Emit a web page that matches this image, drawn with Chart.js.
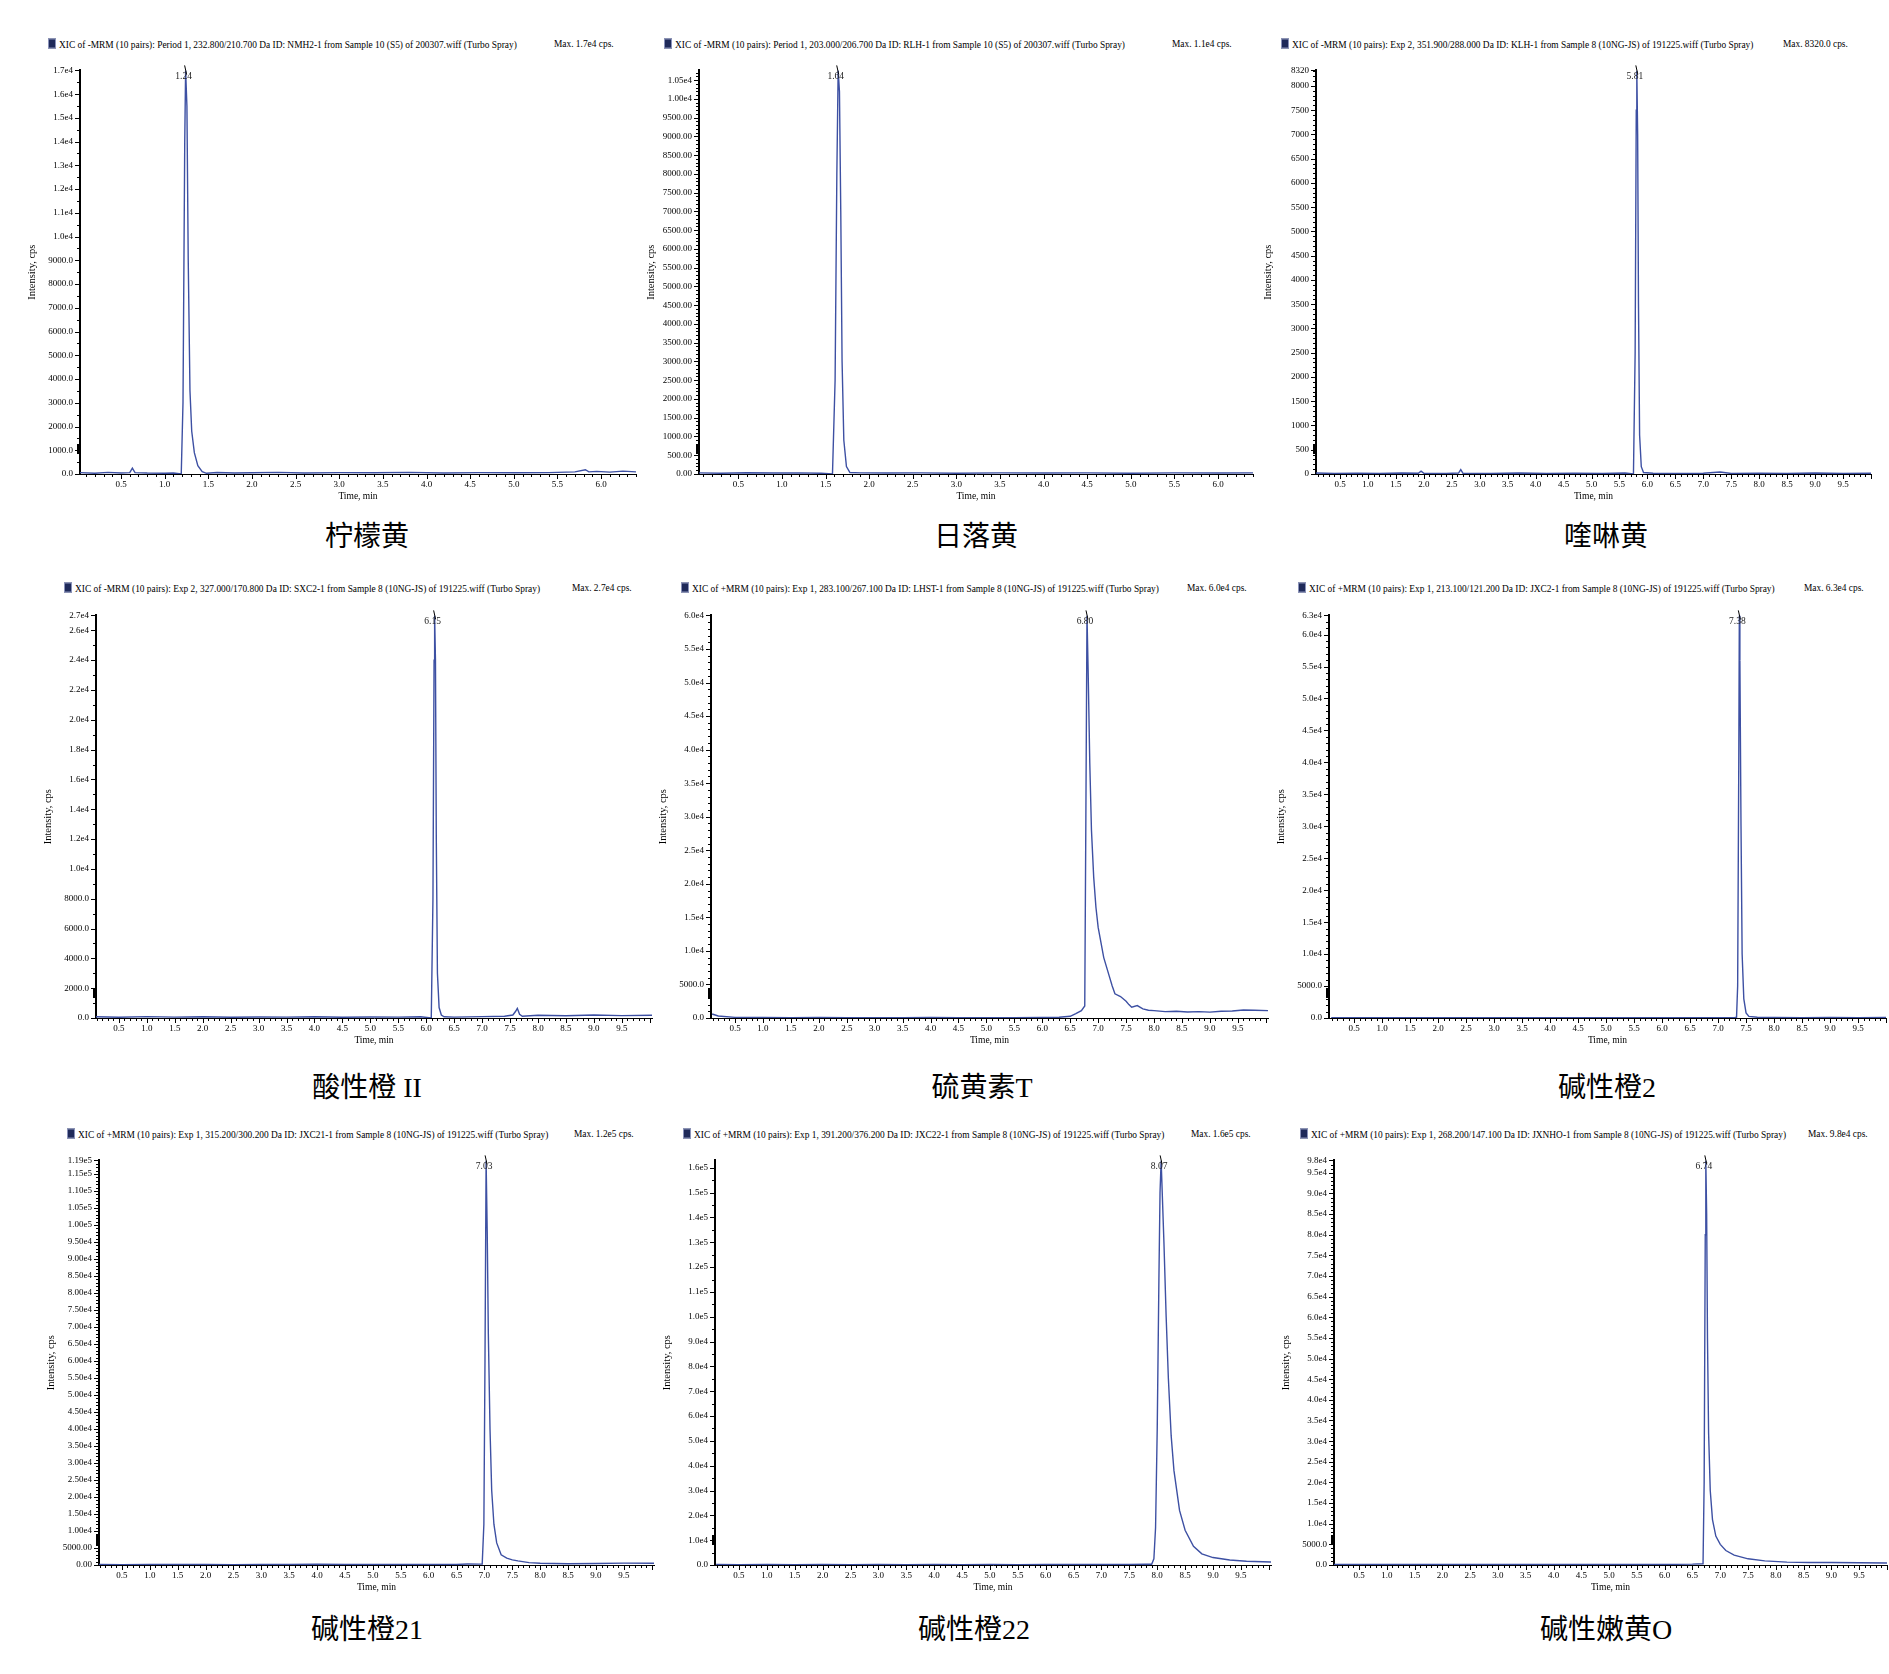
<!DOCTYPE html>
<html><head><meta charset="utf-8">
<script src="https://cdn.jsdelivr.net/npm/chart.js@4.4.1/dist/chart.umd.min.js"></script>
<style>
body{margin:0;background:#fff;}
#page{position:relative;width:1889px;height:1674px;overflow:hidden;font-family:"Liberation Serif","Times New Roman",serif;color:#000;}
.ttl,.mx{position:absolute;font-size:9.4px;white-space:nowrap;line-height:10px;transform:translateY(-50%);}
.ttl i{display:inline-block;width:6px;height:8px;background:#1f2a5a;border:1px solid #8a92ba;margin-right:3px;vertical-align:-1px;}
.cap{position:absolute;font-size:28px;font-family:"Liberation Serif","Noto Sans CJK SC",serif;transform:translate(-50%,-50%);white-space:nowrap;}
.box{position:absolute;}
</style></head><body><div id="page"></div>
<script>
// ---- data (time in min, intensity in cps) ----
const t1 = [0.03, 0.2, 0.35, 0.5, 0.6, 0.63, 0.66, 0.8, 1.0, 1.1, 1.19, 1.21, 1.23, 1.24, 1.255, 1.27, 1.29, 1.31, 1.34, 1.38, 1.43, 1.48, 1.6, 1.8, 2.0, 2.3, 2.6, 3.0, 3.4, 3.8, 4.2, 4.6, 5.0, 5.4, 5.7, 5.82, 5.86, 5.95, 6.1, 6.25, 6.4];
const y1 = [60, 30, 70, 40, 60, 250, 60, 40, 30, 40, 0, 3000, 14000, 17000, 15500, 9000, 3500, 1800, 900, 350, 100, 30, 60, 40, 50, 70, 40, 60, 50, 70, 40, 60, 50, 60, 90, 180, 90, 110, 80, 120, 90];

const t2 = [0.05, 0.3, 0.6, 0.9, 1.2, 1.45, 1.58, 1.61, 1.63, 1.645, 1.66, 1.675, 1.69, 1.71, 1.74, 1.78, 1.9, 2.2, 2.6, 3.0, 3.5, 4.0, 4.5, 5.0, 5.5, 6.0, 6.4];
const y2 = [30, 20, 35, 25, 30, 20, 0, 2500, 8000, 10760, 10200, 7000, 3000, 900, 200, 40, 30, 25, 30, 20, 30, 25, 30, 20, 30, 25, 30];

const t3 = [0.07, 0.4, 0.8, 1.2, 1.6, 1.9, 1.95, 2.0, 2.4, 2.62, 2.66, 2.7, 3.2, 3.7, 4.2, 4.7, 5.2, 5.6, 5.75, 5.78, 5.80, 5.81, 5.825, 5.84, 5.86, 5.89, 5.93, 6.1, 6.5, 7.0, 7.3, 7.5, 8.0, 8.5, 9.0, 9.5, 10.0];
const y3 = [20, 10, 15, 10, 20, 15, 60, 15, 10, 20, 90, 15, 10, 20, 10, 15, 10, 20, 0, 2500, 7500, 8320, 7000, 3500, 800, 150, 30, 15, 10, 15, 40, 10, 15, 10, 20, 10, 15];

const t4 = [0.09, 0.5, 1.0, 1.5, 2.0, 2.5, 3.0, 3.5, 4.0, 4.5, 5.0, 5.5, 5.9, 6.09, 6.12, 6.14, 6.15, 6.165, 6.18, 6.20, 6.23, 6.27, 6.32, 6.5, 7.0, 7.4, 7.55, 7.6, 7.63, 7.67, 7.72, 8.0, 8.5, 9.0, 9.5, 10.04];
const y4 = [80, 50, 90, 60, 80, 50, 70, 60, 80, 50, 70, 60, 80, 0, 8000, 24000, 27000, 24000, 12000, 3000, 700, 200, 80, 60, 90, 120, 200, 450, 650, 250, 120, 180, 150, 200, 160, 180];

const t5 = [0.09, 0.2, 0.5, 1.0, 1.5, 2.0, 2.5, 3.0, 3.5, 4.0, 4.5, 5.0, 5.5, 6.0, 6.3, 6.5, 6.6, 6.7, 6.76, 6.78, 6.80, 6.82, 6.85, 6.88, 6.92, 6.96, 7.0, 7.1, 7.2, 7.25, 7.3, 7.4, 7.5, 7.55, 7.6, 7.7, 7.8, 7.9, 8.0, 8.2, 8.4, 8.6, 8.8, 9.0, 9.2, 9.4, 9.6, 9.8, 10.04];
const y5 = [600, 300, 100, 80, 60, 70, 50, 60, 50, 70, 60, 50, 60, 80, 120, 250, 650, 1100, 1800, 30000, 60000, 52000, 38000, 28000, 21000, 16500, 13500, 9000, 6200, 4800, 3600, 3200, 2500, 2000, 1600, 1850, 1350, 1150, 1100, 950, 1000, 900, 950, 870, 1000, 1050, 1200, 1150, 1100];

const t6 = [0.09, 0.5, 1.0, 1.5, 2.0, 2.5, 3.0, 3.5, 4.0, 4.5, 5.0, 5.5, 6.0, 6.5, 7.0, 7.3, 7.33, 7.35, 7.37, 7.38, 7.39, 7.41, 7.43, 7.46, 7.5, 7.55, 7.7, 8.0, 8.5, 9.0, 9.5, 10.04];
const y6 = [60, 40, 50, 40, 60, 40, 50, 40, 60, 40, 50, 40, 60, 50, 60, 80, 100, 5000, 40000, 63000, 56000, 30000, 10000, 3000, 800, 250, 120, 80, 60, 70, 60, 70];

const t7 = [0.09, 0.5, 1.0, 1.5, 2.0, 2.5, 3.0, 3.5, 4.0, 4.5, 5.0, 5.5, 6.0, 6.5, 6.7, 6.9, 6.96, 6.99, 7.01, 7.03, 7.05, 7.07, 7.10, 7.13, 7.17, 7.22, 7.3, 7.4, 7.5, 7.6, 7.8, 8.0, 8.5, 9.0, 9.5, 10.04];
const y7 = [150, 120, 150, 130, 140, 120, 150, 130, 250, 150, 130, 140, 150, 160, 300, 250, 300, 12000, 60000, 119000, 98000, 68000, 40000, 22000, 12000, 6500, 3000, 2000, 1500, 1200, 700, 500, 350, 450, 550, 500];

const t8 = [0.09, 0.5, 1.0, 1.5, 2.0, 2.5, 3.0, 3.5, 4.0, 4.5, 5.0, 5.5, 6.0, 6.5, 7.0, 7.5, 7.8, 7.90, 7.94, 7.97, 8.00, 8.03, 8.05, 8.07, 8.12, 8.16, 8.20, 8.25, 8.30, 8.40, 8.50, 8.65, 8.80, 9.0, 9.3, 9.6, 10.04];
const y8 = [200, 150, 180, 160, 200, 150, 180, 160, 200, 150, 180, 160, 200, 180, 200, 250, 280, 300, 2500, 15000, 55000, 115000, 150000, 163000, 130000, 100000, 75000, 52000, 38000, 22000, 14000, 7500, 4500, 3000, 2000, 1500, 1200];

const t9 = [0.05, 0.5, 1.0, 1.5, 2.0, 2.5, 3.0, 3.5, 4.0, 4.5, 5.0, 5.5, 6.0, 6.5, 6.69, 6.71, 6.73, 6.74, 6.755, 6.77, 6.79, 6.82, 6.86, 6.92, 7.0, 7.1, 7.25, 7.5, 7.8, 8.2, 8.6, 9.0, 9.5, 10.0];
const y9 = [150, 120, 150, 130, 140, 120, 150, 130, 140, 120, 150, 130, 150, 200, 300, 20000, 80000, 98000, 85000, 55000, 32000, 18000, 11000, 7000, 5000, 3500, 2400, 1500, 1000, 700, 600, 600, 550, 500];

// ---- tick labels ----
const xLabels6 = ["0.5","1.0","1.5","2.0","2.5","3.0","3.5","4.0","4.5","5.0","5.5","6.0"];
const xLabels10 = ["0.5","1.0","1.5","2.0","2.5","3.0","3.5","4.0","4.5","5.0","5.5","6.0","6.5","7.0","7.5","8.0","8.5","9.0","9.5"];

const yl1 = ["0.0","1000.0","2000.0","3000.0","4000.0","5000.0","6000.0","7000.0","8000.0","9000.0","1.0e4","1.1e4","1.2e4","1.3e4","1.4e4","1.5e4","1.6e4","1.7e4"];
const yl2 = ["0.00","500.00","1000.00","1500.00","2000.00","2500.00","3000.00","3500.00","4000.00","4500.00","5000.00","5500.00","6000.00","6500.00","7000.00","7500.00","8000.00","8500.00","9000.00","9500.00","1.00e4","1.05e4"];
const yl3 = ["0","500","1000","1500","2000","2500","3000","3500","4000","4500","5000","5500","6000","6500","7000","7500","8000","8320"];
const yl4 = ["0.0","2000.0","4000.0","6000.0","8000.0","1.0e4","1.2e4","1.4e4","1.6e4","1.8e4","2.0e4","2.2e4","2.4e4","2.6e4","2.7e4"];
const yl5 = ["0.0","5000.0","1.0e4","1.5e4","2.0e4","2.5e4","3.0e4","3.5e4","4.0e4","4.5e4","5.0e4","5.5e4","6.0e4"];
const yl6 = ["0.0","5000.0","1.0e4","1.5e4","2.0e4","2.5e4","3.0e4","3.5e4","4.0e4","4.5e4","5.0e4","5.5e4","6.0e4","6.3e4"];
const yl7 = ["0.00","5000.00","1.00e4","1.50e4","2.00e4","2.50e4","3.00e4","3.50e4","4.00e4","4.50e4","5.00e4","5.50e4","6.00e4","6.50e4","7.00e4","7.50e4","8.00e4","8.50e4","9.00e4","9.50e4","1.00e5","1.05e5","1.10e5","1.15e5","1.19e5"];
const yl8 = ["0.0","1.0e4","2.0e4","3.0e4","4.0e4","5.0e4","6.0e4","7.0e4","8.0e4","9.0e4","1.0e5","1.1e5","1.2e5","1.3e5","1.4e5","1.5e5","1.6e5"];
const yl9 = ["0.0","5000.0","1.0e4","1.5e4","2.0e4","2.5e4","3.0e4","3.5e4","4.0e4","4.5e4","5.0e4","5.5e4","6.0e4","6.5e4","7.0e4","7.5e4","8.0e4","8.5e4","9.0e4","9.5e4","9.8e4"];

const yMax = [17000, 10760, 8320, 27000, 60000, 63000, 119000, 163000, 98000];
const xMin = [0.03, 0.05, 0.07, 0.09, 0.07, 0.05, 0.09, 0.07, 0.05];
const xMax = [6.4, 6.4, 10.0, 10.04, 10.04, 10.0, 10.04, 10.04, 10.0];
const peakTimes = [1.24, 1.64, 5.81, 6.15, 6.80, 7.38, 7.03, 8.07, 6.74];

const titles = [
  "XIC of -MRM (10 pairs): Period 1, 232.800/210.700 Da ID: NMH2-1 from Sample 10 (S5) of 200307.wiff (Turbo Spray)",
  "XIC of -MRM (10 pairs): Period 1, 203.000/206.700 Da ID: RLH-1 from Sample 10 (S5) of 200307.wiff (Turbo Spray)",
  "XIC of -MRM (10 pairs): Exp 2, 351.900/288.000 Da ID: KLH-1 from Sample 8 (10NG-JS) of 191225.wiff (Turbo Spray)",
  "XIC of -MRM (10 pairs): Exp 2, 327.000/170.800 Da ID: SXC2-1 from Sample 8 (10NG-JS) of 191225.wiff (Turbo Spray)",
  "XIC of +MRM (10 pairs): Exp 1, 283.100/267.100 Da ID: LHST-1 from Sample 8 (10NG-JS) of 191225.wiff (Turbo Spray)",
  "XIC of +MRM (10 pairs): Exp 1, 213.100/121.200 Da ID: JXC2-1 from Sample 8 (10NG-JS) of 191225.wiff (Turbo Spray)",
  "XIC of +MRM (10 pairs): Exp 1, 315.200/300.200 Da ID: JXC21-1 from Sample 8 (10NG-JS) of 191225.wiff (Turbo Spray)",
  "XIC of +MRM (10 pairs): Exp 1, 391.200/376.200 Da ID: JXC22-1 from Sample 8 (10NG-JS) of 191225.wiff (Turbo Spray)",
  "XIC of +MRM (10 pairs): Exp 1, 268.200/147.100 Da ID: JXNHO-1 from Sample 8 (10NG-JS) of 191225.wiff (Turbo Spray)"
];
const maxTexts = ["Max. 1.7e4 cps.", "Max. 1.1e4 cps.", "Max. 8320.0 cps.", "Max. 2.7e4 cps.", "Max. 6.0e4 cps.", "Max. 6.3e4 cps.", "Max. 1.2e5 cps.", "Max. 1.6e5 cps.", "Max. 9.8e4 cps."];
const captions = ["柠檬黄", "日落黄", "喹啉黄", "酸性橙 II", "硫黄素T", "碱性橙2", "碱性橙21", "碱性橙22", "碱性嫩黄O"];

// ---- layout (page pixels) ----
const plotBox = [
  [80, 70, 636, 474], [699, 70, 1253, 474], [1316, 70, 1871, 474],
  [96, 615, 652, 1018], [711, 615, 1268, 1018], [1329, 615, 1886, 1018],
  [99, 1160, 654, 1565], [715, 1160, 1271, 1565], [1334, 1160, 1887, 1565]
];
const titlePos = [[48, 44, 554], [664, 44, 1172], [1281, 44, 1783], [64, 588, 572], [681, 588, 1187], [1298, 588, 1804], [67, 1134, 574], [683, 1134, 1191], [1300, 1134, 1808]];
const captionPos = [[367, 534], [976, 534], [1606, 534], [367, 1085], [982, 1085], [1607, 1085], [367, 1627], [974, 1627], [1606, 1627]];
const yMinor = [500, 100, 100, 1000, 1000, 1000, 1000, 5000, 1000];

const times = [t1, t2, t3, t4, t5, t6, t7, t8, t9];
const intens = [y1, y2, y3, y4, y5, y6, y7, y8, y9];
const yLabelSets = [yl1, yl2, yl3, yl4, yl5, yl6, yl7, yl8, yl9];
const xLabelSets = [xLabels6, xLabels6, xLabels10, xLabels10, xLabels10, xLabels10, xLabels10, xLabels10, xLabels10];

const FONT = "Liberation Serif";
const page = document.getElementById('page');

// axis ticks, threshold marker and apex label
const xicMarks = {
  id: 'xicMarks',
  afterDatasetsDraw(chart, args, o) {
    const {ctx, chartArea: a, scales: {x, y}} = chart;
    ctx.save();
    ctx.strokeStyle = '#000';
    ctx.lineWidth = 1;
    ctx.beginPath();
    for (let v = 0; v <= y.max + 1e-6; v += o.yMinor) {
      const py = Math.round(y.getPixelForValue(v)) + 0.5;
      ctx.moveTo(a.left - 3, py); ctx.lineTo(a.left, py);
    }
    o.yVals.forEach(v => {
      const py = Math.round(y.getPixelForValue(v)) + 0.5;
      ctx.moveTo(a.left - 5, py); ctx.lineTo(a.left, py);
    });
    for (let k = Math.ceil(x.min * 10); k <= Math.floor(x.max * 10); k++) {
      const px = Math.round(x.getPixelForValue(k / 10)) + 0.5;
      const len = k % 5 === 0 ? 5 : 3;
      ctx.moveTo(px, a.bottom); ctx.lineTo(px, a.bottom + len);
    }
    ctx.stroke();
    // threshold marker on the y axis
    ctx.fillStyle = '#000';
    ctx.fillRect(a.left - 3, a.bottom - 30, 3, 10);
    // apex
    const px = x.getPixelForValue(o.peakT);
    const py = y.getPixelForValue(o.peakY);
    ctx.beginPath();
    ctx.moveTo(px - 1, py - 5); ctx.lineTo(px + 1, py + 4);
    ctx.stroke();
    ctx.font = '9.5px "' + FONT + '"';
    ctx.fillStyle = '#222';
    ctx.textAlign = 'center';
    ctx.textBaseline = 'top';
    ctx.fillText(o.peakT.toFixed(2), px - 2, py + 1);
    ctx.restore();
  }
};

function makePanel(i) {
  const [l, t, r, b] = plotBox[i];
  const padL = 54, padT = 12, padR = 3, padB = 28;
  const w = r - l + padL + padR, h = b - t + padT + padB;

  const div = document.createElement('div');
  div.className = 'box';
  div.style.left = (l - padL) + 'px';
  div.style.top = (t - padT) + 'px';
  const cv = document.createElement('canvas');
  cv.width = w; cv.height = h;
  div.appendChild(cv);
  page.appendChild(div);

  const yLabs = yLabelSets[i];
  const yVals = yLabs.map(parseFloat);
  const xLabs = xLabelSets[i];
  const xVals = xLabs.map(parseFloat);
  const ymaxData = Math.max(...intens[i]);

  new Chart(cv, {
    type: 'line',
    data: {
      datasets: [{
        data: times[i].map((tx, k) => ({x: tx, y: intens[i][k]})),
        borderColor: '#3d50a3',
        borderWidth: 1.4,
        pointRadius: 0,
        tension: 0,
        fill: false
      }]
    },
    options: {
      responsive: false,
      animation: false,
      devicePixelRatio: 1,
      layout: {padding: {top: padT, right: padR, left: 0, bottom: 0}},
      plugins: {
        legend: {display: false},
        tooltip: {enabled: false},
        xicMarks: {yVals, yMinor: yMinor[i], peakT: peakTimes[i], peakY: ymaxData}
      },
      scales: {
        x: {
          type: 'linear', min: xMin[i], max: xMax[i],
          afterBuildTicks: s => { s.ticks = xVals.map(v => ({value: v})); },
          afterFit: s => { s.height = padB; },
          grid: {display: true, drawOnChartArea: false, drawTicks: false},
          border: {display: true, color: '#000', width: 1},
          ticks: {autoSkip: false, maxRotation: 0, padding: 5, color: '#000',
                  font: {family: FONT, size: 9},
                  callback: (v, k) => xLabs[k]},
          title: {display: true, text: 'Time, min', color: '#000',
                  font: {family: FONT, size: 9.5}, padding: {top: 0, bottom: 0}}
        },
        y: {
          type: 'linear', min: 0, max: yMax[i],
          afterBuildTicks: s => { s.ticks = yVals.map(v => ({value: v})); },
          afterFit: s => { s.width = padL; },
          grid: {display: true, drawOnChartArea: false, drawTicks: false},
          border: {display: true, color: '#000', width: 2},
          ticks: {autoSkip: false, padding: 7, color: '#000',
                  font: {family: FONT, size: 9},
                  callback: (v, k) => yLabs[k]},
          title: {display: true, text: 'Intensity, cps', color: '#000',
                  font: {family: FONT, size: 10.5}, padding: {top: 0, bottom: 0}}
        }
      }
    },
    plugins: [xicMarks]
  });

  const tp = titlePos[i];
  const tt = document.createElement('div');
  tt.className = 'ttl';
  tt.style.left = tp[0] + 'px'; tt.style.top = tp[1] + 'px';
  tt.innerHTML = '<i></i>' + titles[i];
  page.appendChild(tt);
  const mx = document.createElement('div');
  mx.className = 'mx';
  mx.style.left = tp[2] + 'px'; mx.style.top = tp[1] + 'px';
  mx.textContent = maxTexts[i];
  page.appendChild(mx);

  const cp = document.createElement('div');
  cp.className = 'cap';
  cp.style.left = captionPos[i][0] + 'px'; cp.style.top = captionPos[i][1] + 'px';
  cp.textContent = captions[i];
  page.appendChild(cp);
}

for (let i = 0; i < 9; i++) makePanel(i);
</script>
</body></html>
